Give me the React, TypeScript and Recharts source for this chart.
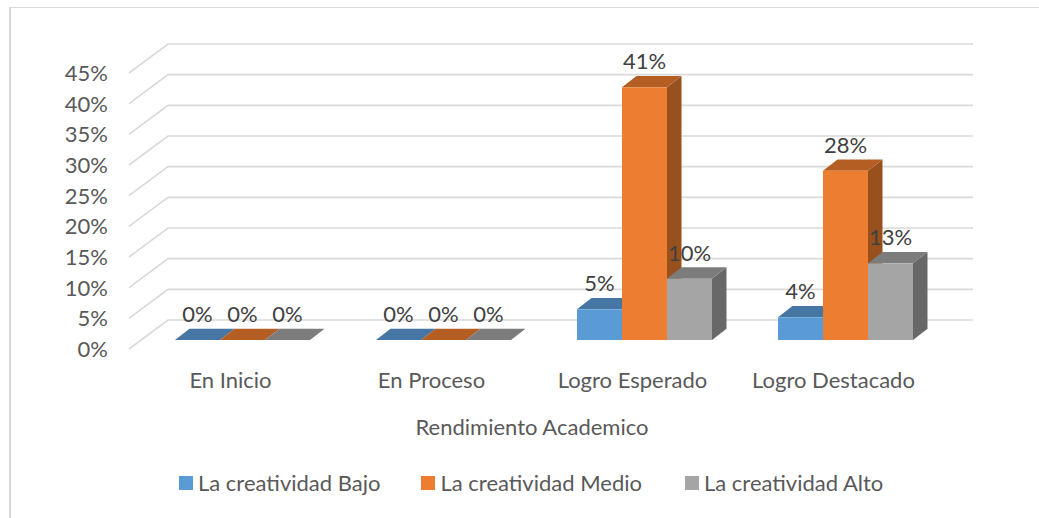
import { BarChart, Bar, XAxis, YAxis, CartesianGrid, LabelList, Legend, Label } from 'recharts';

const categories = ['En Inicio', 'En Proceso', 'Logro Esperado', 'Logro Destacado'];
const bajo = [0, 0, 5.0, 3.7];
const medio = [0, 0, 41.2, 27.6];
const alto = [0, 0, 10.0, 12.5];
const yTicks = [0, 5, 10, 15, 20, 25, 30, 35, 40, 45];

const chartData = categories.map((name, i) => ({
  name,
  'La creatividad Bajo': bajo[i],
  'La creatividad Medio': medio[i],
  'La creatividad Alto': alto[i],
}));

const FONT = 'Lato, sans-serif';
const FONT_SIZE = 22;

// depth of the fake 3D extrusion on each bar
const DX = 14.5;
const DY = 11.3;

const make3dBar = (front: string, top: string, side: string) => (props: any) => {
  const { x, y, width, height } = props;
  const r = x + width;
  const b = y + height;
  return (
    <g>
      <polygon points={`${r},${y} ${r + DX},${y - DY} ${r + DX},${b - DY} ${r},${b}`} fill={side} />
      <polygon points={`${x},${y} ${x + DX},${y - DY} ${r + DX},${y - DY} ${r},${y}`} fill={top} />
      <rect x={x} y={y} width={width} height={height} fill={front} />
    </g>
  );
};

// wall + floor gridline: short diagonal then the long run along the back wall
const gridLine = (props: any) => {
  const { x1, x2, y1 } = props;
  const d = `M${x1 - 13},${y1 + 9} L${x1 + 26},${y1 - 20} L${x2 + 27},${y1 - 20}`;
  return <path key={y1} d={d} fill="none" stroke="#d9d9d9" strokeWidth={1.6} />;
};

const YTick = ({ x, y, payload }: any) => (
  <text x={x - 26} y={y + 17} textAnchor="end" fontFamily={FONT} fontSize={FONT_SIZE} fill="#595959">
    {payload.value}%
  </text>
);

const XTick = ({ x, y, payload }: any) => (
  <text x={x - 12} y={y + 40} textAnchor="middle" fontFamily={FONT} fontSize={FONT_SIZE} fill="#595959">
    {payload.value}
  </text>
);

const LegendContent = ({ payload }: any) => (
  <div style={{ display: 'flex', fontFamily: FONT, fontSize: FONT_SIZE, color: '#595959', lineHeight: '24px' }}>
    {(payload || []).map((p: any, i: number) => (
      <div key={p.value} style={{ display: 'flex', alignItems: 'center', marginRight: i === 0 ? 41 : 43 }}>
        <span style={{ width: 14, height: 14, background: p.color, marginRight: 5, display: 'inline-block' }} />
        {p.value}
      </div>
    ))}
  </div>
);

const pct = (v: any) => `${Math.round(v)}%`;
const labelStyle = { fontFamily: FONT, fontSize: FONT_SIZE, fill: '#404040' };

export default function App() {
  return (
    <div style={{ position: 'absolute', left: 0, top: 0, width: 1039, height: 518, background: '#fff' }}>
      <div style={{ position: 'absolute', left: 9, top: 7, width: 1030, height: 511, borderTop: '1.5px solid #d9d9d9', borderLeft: '2px solid #d9d9d9', boxSizing: 'border-box' }} />
      <BarChart
        width={1039}
        height={518}
        data={chartData}
        margin={{ top: 64, right: 93, bottom: 94, left: 108 }}
        barCategoryGap={33}
        barGap={0}
        style={{ position: 'absolute', left: 0, top: 0 }}
      >
        <CartesianGrid vertical={false} horizontal={gridLine} />
        <XAxis dataKey="name" axisLine={false} tickLine={false} tick={<XTick />} interval={0} height={60}>
          <Label value="Rendimiento Academico" position="bottom" offset={19} dx={-12} style={{ fontFamily: FONT, fontSize: FONT_SIZE, fill: '#595959' }} />
        </XAxis>
        <YAxis domain={[0, 45]} ticks={yTicks} axisLine={false} tickLine={false} tick={<YTick />} interval={0} width={34} />
        <Legend content={<LegendContent />} itemSorter={null} wrapperStyle={{ position: 'absolute', left: 179, top: 471, width: 800 }} />
        <Bar dataKey="La creatividad Bajo" fill="#5b9bd5" isAnimationActive={false} shape={make3dBar('#5b9bd5', '#4676a3', '#3e6a94')}>
          <LabelList position="top" offset={18} formatter={pct} style={labelStyle} />
        </Bar>
        <Bar dataKey="La creatividad Medio" fill="#ed7d31" isAnimationActive={false} shape={make3dBar('#ed7d31', '#b55e23', '#98501c')}>
          <LabelList position="top" offset={18} formatter={pct} style={labelStyle} />
        </Bar>
        <Bar dataKey="La creatividad Alto" fill="#a5a5a5" isAnimationActive={false} shape={make3dBar('#a5a5a5', '#7c7c7c', '#686868')}>
          <LabelList position="top" offset={18} formatter={pct} style={labelStyle} />
        </Bar>
      </BarChart>
    </div>
  );
}
